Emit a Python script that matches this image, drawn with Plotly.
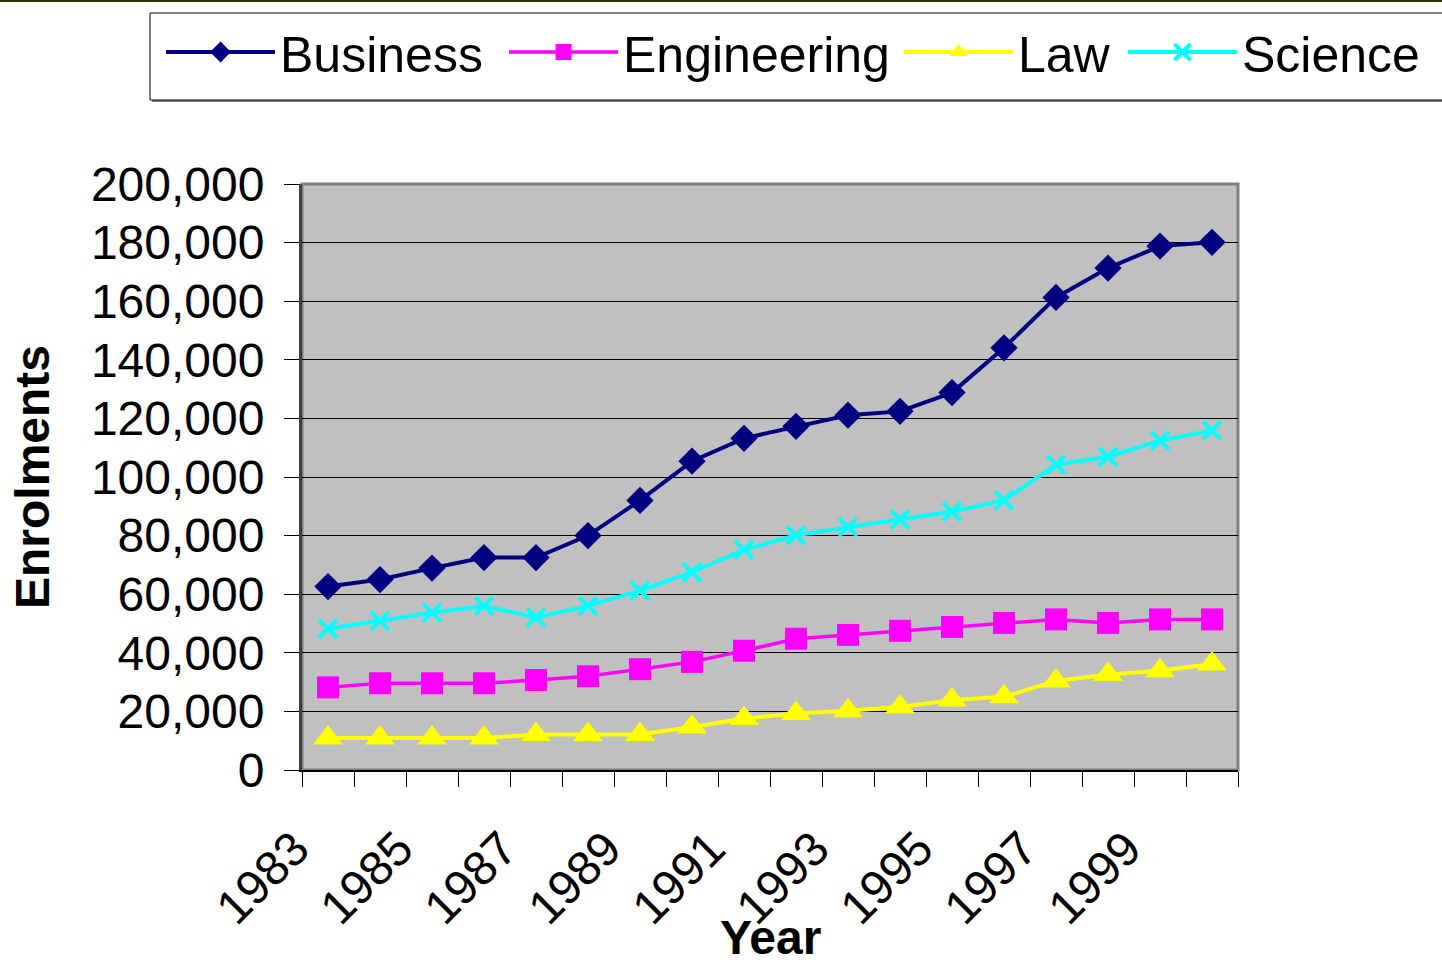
import plotly.graph_objects as go

# Enrolments by faculty, 1983-2000
years = list(range(1983, 2001))
business = [62600, 65000, 68900, 72500, 72500, 80000, 92000, 105400, 113200,
            117300, 121100, 122400, 128800, 144100, 161300, 171300, 178800, 180100]
engineering = [28200, 29600, 29600, 29600, 30700, 32000, 34400, 36900, 40700,
               44800, 46100, 47500, 48800, 50200, 51400, 50200, 51400, 51400]
law = [10900, 10900, 10900, 10900, 12100, 12100, 12100, 14700, 17600,
       19300, 20200, 21500, 23900, 25000, 30400, 32600, 33900, 36200]
science = [48200, 50900, 53700, 56000, 52100, 56000, 61200, 67500, 75200,
           80100, 82900, 85500, 88200, 92000, 104200, 106900, 112400, 115900]

year_labels = [str(y) for y in years[::2]]

FONT = "Liberation Sans, Arial, sans-serif"

# plot area in pixels (page is 1442 x 968)
L, R, T, B = 302, 1238, 184, 770
W, H = R - L, B - T


def px_x(p):
    return (p - L) / W


def px_y(p):
    return (B - p) / H


fig = go.Figure()
series = [
    ("Business", business, "#000080", "diamond", 21, 0, 4, "legend", 161),
    ("Engineering", engineering, "#FF00FF", "square", 22, 0, 3.5, "legend2", 504),
    ("Law", law, "#FFFF00", "triangle-up", 26, 0, 4, "legend3", 899),
    ("Science", science, "#00FFFF", "x-thin", 18, 4, 4, "legend4", 1123),
]
legends = {}
for name, vals, color, sym, size, mlw, lw, leg, leg_x in series:
    fig.add_trace(go.Scatter(
        x=years, y=vals, name=name, mode="lines+markers", legend=leg,
        line=dict(color=color, width=lw),
        marker=dict(symbol=sym, size=size, color=color,
                    line=dict(color=color, width=mlw)),
    ))
    legends[leg] = dict(
        orientation="h", x=px_x(leg_x), y=px_y(52), xanchor="left",
        yanchor="middle", bgcolor="rgba(0,0,0,0)", borderwidth=0,
        font=dict(size=50), itemwidth=109, itemsizing="trace",
    )

fig.update_layout(
    width=1442, height=968,
    margin=dict(l=L, r=1442 - R, t=T, b=968 - B),
    paper_bgcolor="white",
    plot_bgcolor="#C0C0C0",
    font=dict(family=FONT, color="black", size=48),
    showlegend=True,
    xaxis=dict(
        range=[1982.5, 2000.5], automargin=False,
        tickmode="array", tickvals=years[::2], ticktext=year_labels,
        tickangle=-45, ticks="", showgrid=False, zeroline=False,
        showline=True, linecolor="black", linewidth=2,
        ticklabelstandoff=29, ticklabelshift=-33,
        minor=dict(tickmode="linear", tick0=1982.5, dtick=1, ticks="outside",
                   ticklen=15, tickcolor="black", tickwidth=1, showgrid=False),
    ),
    yaxis=dict(
        range=[0, 200000], dtick=20000, tickformat=",d", automargin=False,
        ticks="outside", ticklen=15, tickcolor="black", tickwidth=1,
        ticklabelstandoff=10,
        showgrid=True, gridcolor="black", gridwidth=1, zeroline=False,
        showline=True, linecolor="#404040", linewidth=3,
        title=dict(text="<b>Enrolments</b>", font=dict(size=48), standoff=27),
    ),
    **legends,
)

# x-axis title
fig.add_annotation(text="<b>Year</b>", xref="paper", yref="paper",
                   x=0.5, y=px_y(937), xanchor="center", yanchor="middle",
                   showarrow=False, font=dict(size=48))

# gray frame around the plot area
fig.add_shape(type="rect", xref="paper", yref="paper", x0=0, y0=0, x1=1, y1=1,
              line=dict(color="#808080", width=3), layer="between")
# legend panel: drop shadow, then white box with black border
fig.add_shape(type="rect", xref="paper", yref="paper",
              x0=px_x(152), x1=px_x(1460), y0=px_y(102), y1=px_y(15),
              fillcolor="#808080", line=dict(width=0), layer="above")
fig.add_shape(type="rect", xref="paper", yref="paper",
              x0=px_x(150), x1=px_x(1460), y0=px_y(100), y1=px_y(13),
              fillcolor="white", line=dict(color="black", width=1), layer="above")
# thin rule along the top edge of the page
fig.add_shape(type="line", xref="paper", yref="paper", x0=px_x(-10), x1=px_x(1460),
              y0=px_y(1), y1=px_y(1), line=dict(color="#333300", width=2))

fig.write_html("out.html")
